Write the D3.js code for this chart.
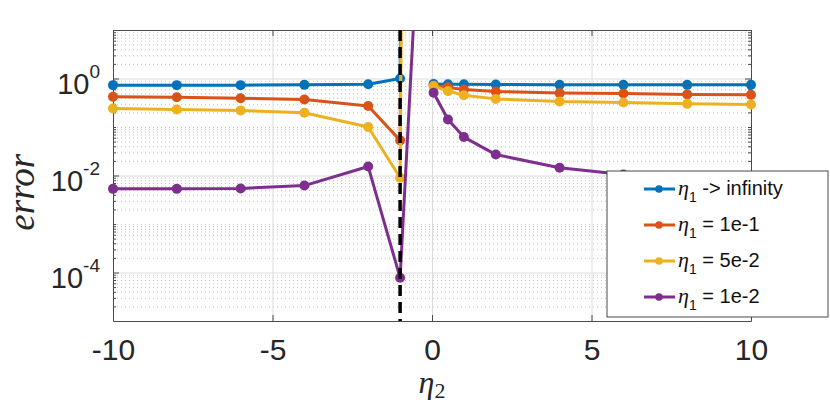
<!DOCTYPE html>
<html lang="en">
<head>
    <meta charset="UTF-8">
    <title>error vs eta2</title>
    <style>
        body {
            margin: 0;
            background: white;
        }

        .tick text {
            font-family: "Liberation Sans", Arial, sans-serif;
            fill: #262626;
        }

        .axis path, .axis line {
            stroke: #4a4a4a;
        }

        .grid line {
            stroke: #dcdcdc;
            stroke-width: 1;
        }

        .grid path {
            display: none;
        }

        .minor-grid line {
            stroke: #c4c4c4;
            stroke-width: 1;
            stroke-dasharray: 1,3;
        }

        .minor-grid path {
            display: none;
        }

        .series-line {
            fill: none;
            stroke-width: 3;
            stroke-linejoin: round;
        }

        .legend text {
            font-family: "Liberation Sans", Arial, sans-serif;
            font-size: 20px;
            fill: #111;
        }
    </style>
    <script src="https://d3js.org/d3.v7.min.js"></script>
</head>
<body>
    <div id="chart"></div>

    <script>
        // eta_2 values (left branch ends with the blow-up at eta_2 = 0)
        const etaLeft = [-10, -8, -6, -4, -2, -1, 0];
        const etaRight = [0.05, 0.5, 1, 2, 4, 6, 8, 10];
        const singularEta = -1;

        const seriesNames = ['infinity', '1e-1', '5e-2', '1e-2'];
        const seriesColors = ['#0072BD', '#D95319', '#EDB120', '#7E2F8E'];

        const errInfLeft = [0.73, 0.73, 0.73, 0.74, 0.76, 1.0, 1e100];
        const errInfRight = [0.77, 0.76, 0.76, 0.75, 0.74, 0.74, 0.74, 0.74];

        const err1e1Left = [0.42, 0.41, 0.39, 0.37, 0.27, 0.053, 1e100];
        const err1e1Right = [0.72, 0.66, 0.59, 0.54, 0.50, 0.49, 0.47, 0.46];

        const err5e2Left = [0.24, 0.23, 0.22, 0.196, 0.10, 0.009, 1e100];
        const err5e2Right = [0.70, 0.55, 0.45, 0.38, 0.335, 0.32, 0.30, 0.29];

        const err1e2Left = [0.0053, 0.0053, 0.0054, 0.0062, 0.0153, 7.8e-5, 2e8];
        const err1e2Right = [0.51, 0.143, 0.062, 0.027, 0.0144, 0.0105, 0.009, 0.008];

        const xTicks = [-10, -5, 0, 5, 10];
        const yTicks = [1e-4, 1e-2, 1];
        const yTickExp = ['-4', '-2', '0'];

        const width = 830;
        const height = 410;
        const margin = {top: 30, right: 79, bottom: 89, left: 113};
        const innerW = width - margin.left - margin.right;
        const innerH = height - margin.top - margin.bottom;

        const svg = d3.select('#chart')
            .append('svg')
            .attr('width', width)
            .attr('height', height);

        const g = svg.append('g')
            .attr('transform', `translate(${margin.left},${margin.top})`);

        const x = d3.scaleLinear().domain([-10, 10]).range([0, innerW]);
        const y = d3.scaleLog().domain([1e-5, 10]).range([innerH, 0]);

        // minor log ticks, everything that is not a labelled decade
        const yMinor = [];
        for (let k = -5; k <= 0; k++) {
            for (let m = 1; m <= 9; m++) {
                const v = m * Math.pow(10, k);
                if (v <= 1e-5 || yTicks.some(t => Math.abs(t - v) / t < 1e-9)) continue;
                yMinor.push(v);
            }
        }

        g.append('defs').append('clipPath')
            .attr('id', 'plot-clip')
            .append('rect')
            .attr('width', innerW)
            .attr('height', innerH);

        // grids
        g.append('g')
            .attr('class', 'minor-grid')
            .call(d3.axisLeft(y).tickValues(yMinor).tickSize(-innerW).tickFormat(''));

        g.append('g')
            .attr('class', 'grid')
            .call(d3.axisLeft(y).tickValues(yTicks).tickSize(-innerW).tickFormat(''));

        g.append('g')
            .attr('class', 'grid')
            .attr('transform', `translate(0,${innerH})`)
            .call(d3.axisBottom(x).tickValues([-5, 0, 5]).tickSize(-innerH).tickFormat(''));

        // box axes, ticks pointing inward
        const xAxis = g.append('g')
            .attr('class', 'axis')
            .attr('transform', `translate(0,${innerH})`)
            .call(d3.axisBottom(x).tickValues(xTicks).tickFormat(d => String(d))
                .tickSizeInner(-6).tickSizeOuter(0).tickPadding(18));
        xAxis.selectAll('text').style('font-size', '30px');

        g.append('g')
            .attr('class', 'axis')
            .call(d3.axisTop(x).tickValues(xTicks).tickSizeInner(-6).tickSizeOuter(0).tickFormat(''));

        const yAxis = g.append('g')
            .attr('class', 'axis')
            .call(d3.axisLeft(y).tickValues(yTicks).tickSizeInner(-6).tickSizeOuter(0).tickPadding(13).tickFormat(''));

        yAxis.selectAll('text')
            .attr('dy', '0.52em')
            .style('font-size', '29px')
            .each(function(d, i) {
                const t = d3.select(this);
                t.append('tspan').text('10');
                t.append('tspan')
                    .attr('dy', -16)
                    .style('font-size', '19px')
                    .text(yTickExp[i]);
            });

        g.append('g')
            .attr('class', 'axis')
            .call(d3.axisLeft(y).tickValues(yMinor).tickSizeInner(-3).tickSizeOuter(0).tickFormat(''))
            .select('.domain').remove();

        g.append('g')
            .attr('class', 'axis')
            .attr('transform', `translate(${innerW},0)`)
            .call(d3.axisRight(y).tickValues(yTicks).tickSizeInner(-6).tickSizeOuter(0).tickFormat(''));

        g.append('g')
            .attr('class', 'axis')
            .attr('transform', `translate(${innerW},0)`)
            .call(d3.axisRight(y).tickValues(yMinor).tickSizeInner(-3).tickSizeOuter(0).tickFormat(''))
            .select('.domain').remove();

        // axis labels
        svg.append('text')
            .attr('transform', `translate(34,${margin.top + y(0.0045)}) rotate(-90)`)
            .attr('text-anchor', 'middle')
            .style('font-family', '"Liberation Serif", serif')
            .style('font-style', 'italic')
            .style('font-size', '37px')
            .style('fill', '#262626')
            .text('error');

        const xLabel = svg.append('text')
            .attr('x', margin.left + x(0))
            .attr('y', 393)
            .attr('text-anchor', 'middle')
            .style('font-family', '"Liberation Serif", serif')
            .style('fill', '#262626');
        xLabel.append('tspan')
            .style('font-style', 'italic')
            .style('font-size', '32px')
            .text('η');
        xLabel.append('tspan')
            .attr('dy', 5)
            .style('font-size', '22px')
            .text('2');

        // data
        const series = [
            {left: errInfLeft, right: errInfRight},
            {left: err1e1Left, right: err1e1Right},
            {left: err5e2Left, right: err5e2Right},
            {left: err1e2Left, right: err1e2Right}
        ];

        const line = d3.line()
            .x(d => x(d[0]))
            .y(d => y(d[1]));

        const data = g.append('g');

        series.forEach((s, i) => {
            const branches = [
                etaLeft.map((e, j) => [e, s.left[j]]),
                etaRight.map((e, j) => [e, s.right[j]])
            ];
            const sg = data.append('g');

            branches.forEach(b => {
                sg.append('path')
                    .attr('class', 'series-line')
                    .attr('clip-path', 'url(#plot-clip)')
                    .attr('stroke', seriesColors[i])
                    .attr('d', line(b));

                sg.selectAll(null)
                    .data(b.filter(d => d[1] <= 10))
                    .join('circle')
                    .attr('cx', d => x(d[0]))
                    .attr('cy', d => y(d[1]))
                    .attr('r', 5)
                    .attr('fill', seriesColors[i]);
            });
        });

        // singular eta_2
        g.append('line')
            .attr('x1', x(singularEta))
            .attr('x2', x(singularEta))
            .attr('y1', 0)
            .attr('y2', innerH)
            .attr('stroke', 'black')
            .attr('stroke-width', 3.5)
            .attr('stroke-dasharray', '11,6');

        // legend
        const legend = svg.append('g')
            .attr('class', 'legend')
            .attr('transform', 'translate(607,171)');

        legend.append('rect')
            .attr('width', 221)
            .attr('height', 146)
            .attr('fill', 'white')
            .attr('stroke', '#4a4a4a')
            .attr('stroke-width', 1);

        seriesNames.forEach((name, i) => {
            const row = legend.append('g')
                .attr('transform', `translate(0,${18 + i * 36})`);

            row.append('line')
                .attr('x1', 37)
                .attr('x2', 68)
                .attr('stroke', seriesColors[i])
                .attr('stroke-width', 3);

            row.append('circle')
                .attr('cx', 52)
                .attr('r', 3.8)
                .attr('fill', seriesColors[i]);

            const label = row.append('text')
                .attr('x', 71)
                .attr('y', 6);
            label.append('tspan')
                .style('font-family', '"Liberation Serif", serif')
                .style('font-style', 'italic')
                .style('font-size', '22px')
                .text('η');
            label.append('tspan')
                .attr('dy', 7)
                .style('font-size', '14px')
                .text('1');
            label.append('tspan')
                .attr('dy', -7)
                .text(name === 'infinity' ? ' -> infinity' : ' = ' + name);
        });
    </script>
</body>
</html>
